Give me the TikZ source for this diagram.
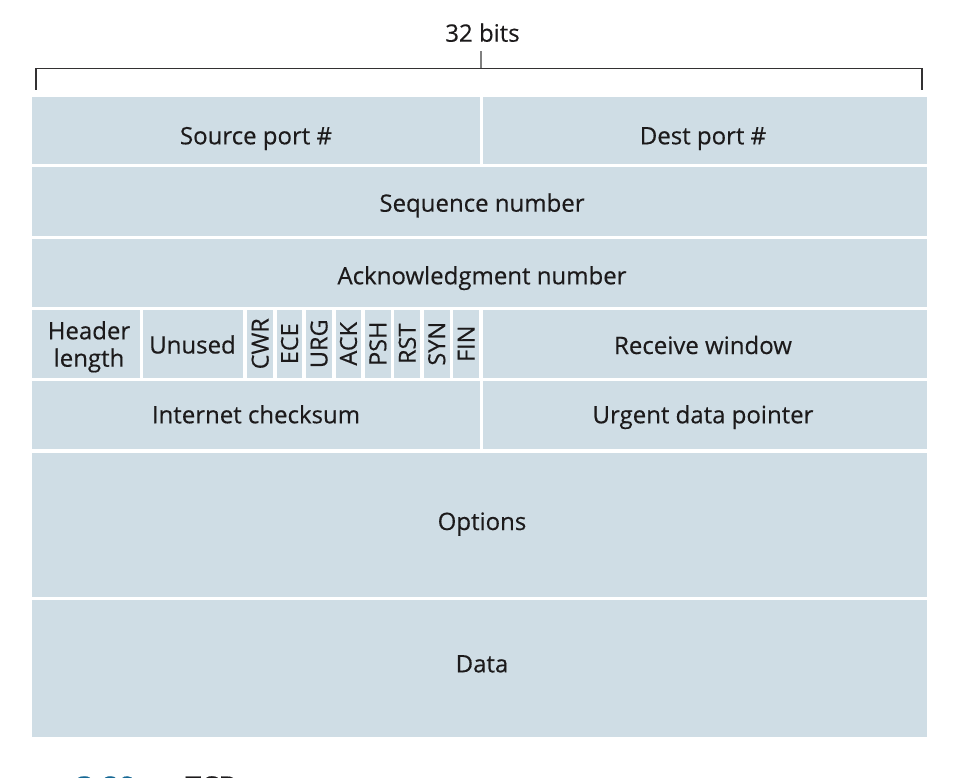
\documentclass[tikz,border=0pt]{standalone}
\usepackage{fontspec}
\setmainfont{Open Sans}[FakeBold=0.35]
\definecolor{cellfill}{RGB}{207,221,229}
\definecolor{inkc}{RGB}{28,26,27}
\definecolor{capblue}{RGB}{22,104,148}
\begin{document}
\begin{tikzpicture}[x=1pt,y=-1pt,
  cell/.style={fill=cellfill,draw=none,inner sep=0pt},
  lbl/.style={anchor=base,inner sep=0pt,text=inkc,font=\fontsize{24}{28}\selectfont},
  flag/.style={cell,minimum width=25.7pt,minimum height=67.5pt},
  flagtxt/.style={rotate=90,text=inkc,font=\fontsize{23.5}{26}\selectfont,inner sep=0pt},
  brk/.style={draw=inkc!90,line width=1.1pt},
  tickline/.style={draw=black!50,line width=1.4pt}
]
\useasboundingbox (0,0) rectangle (956,778);
% top label and bracket
\node[lbl] (bits) at (482.5,41.7) {32 bits};
\coordinate (bl) at (36,90);
\coordinate (br) at (922,90);
\coordinate (tick) at (481,68.3);
\coordinate (ticktop) at (481,51.5);
\draw[brk] (bl) -- (36,68.3) -- (922,68.3) -- (br);
\draw[tickline] (tick) -- (ticktop);
% row 1
\node[cell,minimum width=448pt,minimum height=67pt] (src) at (256,130.5) {};
\node[cell,minimum width=444pt,minimum height=67pt] (dst) at (705,130.5) {};
\node[lbl] (srct) at (256,144.3) {Source port \#};
\node[lbl] (dstt) at (703,144.3) {Dest port \#};
% row 2
\node[cell,minimum width=895pt,minimum height=69pt] (seq) at (479.5,201.5) {};
\node[lbl] (seqt) at (482,211.7) {Sequence number};
% row 3
\node[cell,minimum width=895pt,minimum height=67pt] (ack) at (479.5,273) {};
\node[lbl] (ackt) at (482,284.3) {Acknowledgment number};
% row 4
\node[cell,minimum width=108pt,minimum height=67.5pt] (hlen) at (86,343.75) {};
\node[lbl] (hlent1) at (89,339.3) {Header};
\node[lbl] (hlent2) at (89,366.7) {length};
\node[cell,minimum width=100pt,minimum height=67.5pt] (unused) at (193.3,343.75) {};
\node[lbl] (unusedt) at (192.5,353.5) {Unused};
\foreach \n/\t [count=\i from 0] in {fcwr/CWR,fece/ECE,furg/URG,fack/ACK,fpsh/PSH,frst/RST,fsyn/SYN,ffin/FIN}{
  \node[flag] (\n) at ({260.15+\i*29.43},343.75) {};
  \node[flagtxt] (\n t) at (\n.center) {\t};
}
\node[cell,minimum width=444pt,minimum height=67.5pt] (rwnd) at (705,343.75) {};
\node[lbl] (rwndt) at (703,354) {Receive window};
% row 5
\node[cell,minimum width=448pt,minimum height=68.3pt] (chk) at (256,415.15) {};
\node[cell,minimum width=444pt,minimum height=68.3pt] (urg) at (705,415.15) {};
\node[lbl] (chkt) at (256,423.3) {Internet checksum};
\node[lbl] (urgt) at (703,423.3) {Urgent data pointer};
% row 6
\node[cell,minimum width=895pt,minimum height=144pt] (opt) at (479.5,524.7) {};
\node[lbl] (optt) at (482,530) {Options};
% row 7
\node[cell,minimum width=895pt,minimum height=136.7pt] (data) at (479.5,668.35) {};
\node[lbl] (datat) at (482,672.3) {Data};
% cut-off caption
\node[anchor=base west,inner sep=0pt,text=capblue,font=\fontsize{30}{34}\selectfont\bfseries] (capnum) at (76,798) {3.29};
\node[anchor=base west,inner sep=0pt,text=inkc,font=\fontsize{28}{32}\selectfont\bfseries] (captxt) at (185,796.5) {TCP};
\end{tikzpicture}
\end{document}
